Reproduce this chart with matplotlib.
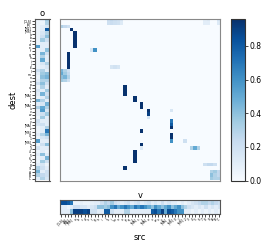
import numpy as np
import matplotlib
matplotlib.use("Agg")
import matplotlib.pyplot as plt

# tokens (src == dest)
tokens = ["[CLS]", "[S]", "[M2]", "[MS]", "a", "b", "c", "d", "e", "f", "g", "h",
          "i", "j", "k", "l", "m", "n", "o", "p", "q", "r", "[MA]", "s",
          "t", "[MA]", "u", "v", "w", "x", "y", "[MA]", "z", "[MS]", "0", "1",
          "[MS]", "2", "3", "4", "5", "6", "7", "8", "9", "A", "B", "C"]

# main attention matrix, sparse non-zero cells
main_rows = [0, 0, 0, 0, 0, 1, 1, 1, 1, 1, 0, 0, 0, 1, 1, 1,
             2, 2, 2, 3, 4, 5, 6, 7, 8, 9, 9, 10, 11, 12, 13, 14,
             14, 14, 14, 15, 15, 15, 16, 16, 16, 17, 17, 17, 18, 18, 18,
             20, 21, 22, 23, 24, 25, 26, 27, 28, 29, 27, 30, 31, 32,
             33, 34, 35, 36, 36, 37, 38, 38, 38, 38, 39, 40, 41, 42,
             43, 43, 43, 43, 44, 45, 45, 45, 46, 46, 46, 47, 47, 47]
main_cols = [14, 15, 16, 17, 18, 14, 15, 16, 17, 18, 43, 44, 47, 43, 44, 47,
             0, 1, 2, 3, 4, 4, 4, 4, 4, 9, 10, 2, 2, 2, 2, 2,
             15, 16, 17, 0, 1, 2, 0, 1, 2, 0, 1, 2, 0, 1, 2,
             19, 19, 19, 22, 22, 24, 24, 26, 26, 26, 33, 33, 33, 33,
             24, 33, 33, 33, 37, 24, 24, 39, 40, 41, 22, 22, 22, 22,
             43, 44, 45, 46, 19, 45, 46, 47, 45, 46, 47, 45, 46, 47]
main_vals = [0.22, 0.25, 0.22, 0.2, 0.15, 0.2, 0.22, 0.2, 0.18, 0.12, 0.1, 0.12, 0.15, 0.1, 0.1, 0.12,
             0.3, 0.25, 0.2, 0.95, 0.95, 0.95, 0.95, 0.95, 0.95, 0.15, 0.6, 0.95, 0.95, 0.95, 0.95, 0.95,
             0.15, 0.18, 0.15, 0.45, 0.3, 0.2, 0.5, 0.35, 0.25, 0.4, 0.45, 0.3, 0.35, 0.3, 0.2,
             0.95, 0.95, 0.95, 0.95, 0.95, 0.95, 0.95, 0.95, 0.9, 0.15, 0.15, 0.7, 0.8, 0.95,
             0.95, 0.95, 0.95, 0.6, 0.2, 0.95, 0.12, 0.3, 0.5, 0.3, 0.95, 0.95, 0.95, 0.95,
             0.2, 0.25, 0.25, 0.2, 0.95, 0.3, 0.35, 0.25, 0.4, 0.3, 0.25, 0.35, 0.3, 0.3]

# o panel (48 x 3)
o_col0 = [0.05, 0.05, 0.05, 0.05, 0.05, 0.05, 0.05, 0.05, 0.55, 0.05, 0.05, 0.05,
          0.05, 0.05, 0.05, 0.2, 0.1, 0.05, 0.1, 0.2, 0.05, 0.15, 0.1, 0.05,
          0.45, 0.1, 0.3, 0.1, 0.1, 0.05, 0.2, 0.15, 0.05, 0.05, 0.1, 0.05,
          0.55, 0.05, 0.15, 0.05, 0.1, 0.05, 0.05, 0.1, 0.3, 0.45, 0.3, 0.1]
o_col1 = [0.1, 0.05, 0.1, 0.1, 0.15, 0.2, 0.35, 0.1, 0.1, 0.1, 0.45, 0.3,
          0.5, 0.15, 0.1, 0.3, 0.35, 0.4, 0.3, 0.4, 0.3, 0.1, 0.45, 0.1,
          0.3, 0.15, 0.5, 0.55, 0.2, 0.35, 0.1, 0.2, 0.1, 0.1, 0.3, 0.15,
          0.1, 0.2, 0.1, 0.1, 0.4, 0.1, 0.35, 0.15, 0.2, 0.1, 0.25, 0.3]
o_col2 = [0.35, 0.3, 0.15, 0.8, 0.3, 0.4, 0.2, 0.1, 0.1, 0.4, 0.2, 0.1,
          0.1, 0.3, 0.15, 0.1, 0.4, 0.45, 0.3, 0.2, 0.1, 0.35, 0.2, 0.3,
          0.1, 0.45, 0.3, 0.15, 0.35, 0.1, 0.1, 0.1, 0.3, 0.7, 0.45, 0.2,
          0.1, 0.4, 0.1, 0.05, 0.1, 0.45, 0.2, 0.05, 0.1, 0.2, 0.2, 0.15]

# v panel (3 x 48)
v_row0 = [0.85, 0.85, 0.8, 0.7, 0.05, 0.05, 0.08, 0.05, 0.05, 0.08, 0.1, 0.1,
          0.2, 0.3, 0.25, 0.35, 0.2, 0.15, 0.1, 0.15, 0.2, 0.1, 0.15, 0.2,
          0.1, 0.15, 0.2, 0.1, 0.15, 0.1, 0.2, 0.1, 0.15, 0.1, 0.1, 0.05,
          0.1, 0.05, 0.1, 0.15, 0.2, 0.25, 0.3, 0.3, 0.25, 0.3, 0.25, 0.2]
v_row1 = [0.1, 0.1, 0.05, 0.1, 0.2, 0.2, 0.15, 0.15, 0.1, 0.15, 0.2, 0.4,
          0.4, 0.35, 0.4, 0.6, 0.7, 0.5, 0.6, 0.7, 0.6, 0.5, 0.7, 0.6,
          0.7, 0.6, 0.5, 0.4, 0.6, 0.5, 0.4, 0.5, 0.6, 0.4, 0.5, 0.6,
          0.4, 0.3, 0.2, 0.15, 0.1, 0.15, 0.1, 0.2, 0.1, 0.15, 0.1, 0.15]
v_row2 = [0.1, 0.1, 0.1, 0.4, 0.9, 0.9, 0.9, 0.85, 0.9, 0.2, 0.2, 0.1,
          0.1, 0.8, 0.8, 0.2, 0.1, 0.1, 0.1, 0.3, 0.3, 0.1, 0.1, 0.1,
          0.1, 0.1, 0.1, 0.8, 0.85, 0.7, 0.9, 0.5, 0.85, 0.8, 0.7, 0.6,
          0.6, 0.1, 0.1, 0.05, 0.1, 0.05, 0.1, 0.05, 0.1, 0.05, 0.1, 0.05]

N = len(tokens)
M = np.zeros((N, N))
M[main_rows, main_cols] = main_vals
O = np.array([o_col0, o_col1, o_col2]).T
V = np.array([v_row0, v_row1, v_row2])

vmin, vmax = 0.0, 0.96
cmap = "Blues"
W, H = 266, 250

fig = plt.figure(figsize=(W / 100, H / 100), dpi=100)

def ax_px(x0, y0, x1, y1):
    return fig.add_axes([x0 / W, 1 - y1 / H, (x1 - x0) / W, (y1 - y0) / H])

frame_col = "#555555"

# o panel
ax_o = ax_px(34.7, 19.0, 49.5, 180.5)
ax_o.imshow(O, cmap=cmap, vmin=vmin, vmax=vmax, aspect="auto", interpolation="nearest")
ax_o.set_xticks([])
ax_o.set_yticks(range(N))
ax_o.set_yticklabels(tokens, fontsize=2.2)
ax_o.tick_params(axis="y", length=2, width=0.5, pad=0.5)
ax_o.set_title("o", fontsize=6, pad=2)
ax_o.set_ylabel("dest", fontsize=6, labelpad=4)
for s in ax_o.spines.values():
    s.set_color(frame_col)
    s.set_linewidth(0.8)

# main
ax_m = ax_px(59.7, 19.0, 219.7, 180.5)
ax_m.imshow(M, cmap=cmap, vmin=vmin, vmax=vmax, aspect="auto", interpolation="nearest")
ax_m.set_xticks([])
ax_m.set_yticks([])
for s in ax_m.spines.values():
    s.set_color("#888888")
    s.set_linewidth(0.8)

# v panel
ax_v = ax_px(59.7, 200.3, 220.3, 214.3)
ax_v.imshow(V, cmap=cmap, vmin=vmin, vmax=vmax, aspect="auto", interpolation="nearest")
ax_v.set_yticks([])
ax_v.set_xticks(range(N))
ax_v.set_xticklabels(tokens, fontsize=2.2, rotation=45, ha="right", rotation_mode="anchor")
ax_v.tick_params(axis="x", length=2, width=0.5, pad=0.5)
ax_v.set_title("v", fontsize=6, pad=2)
ax_v.set_xlabel("src", fontsize=6, labelpad=5)
for s in ax_v.spines.values():
    s.set_color(frame_col)
    s.set_linewidth(0.8)

# colorbar
cax = ax_px(231.0, 19.0, 245.0, 180.5)
sm = plt.cm.ScalarMappable(cmap=cmap, norm=plt.Normalize(vmin, vmax))
cb = fig.colorbar(sm, cax=cax)
cb.set_ticks([0.0, 0.2, 0.4, 0.6, 0.8])
cb.ax.tick_params(labelsize=5.5, length=2, width=0.5, pad=1)
cb.outline.set_edgecolor("#333333")
cb.outline.set_linewidth(0.8)

fig.savefig("out.png", dpi=100)
